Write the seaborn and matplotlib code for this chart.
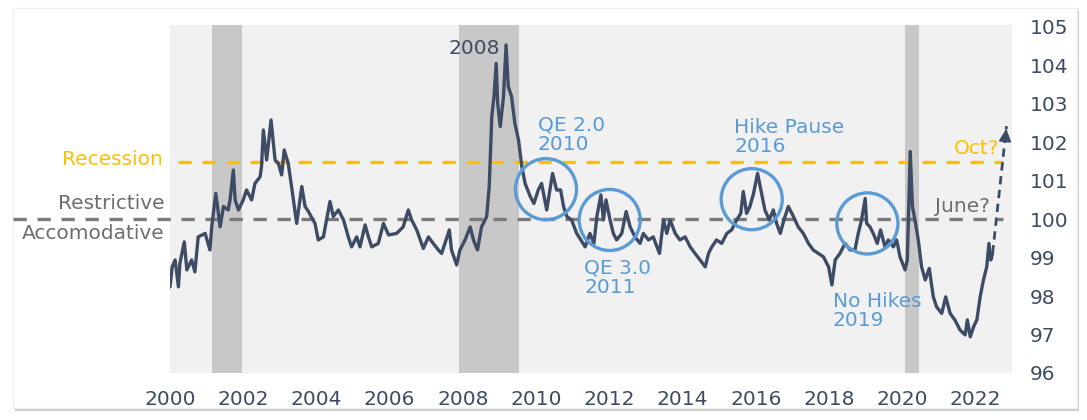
import matplotlib
matplotlib.use("Agg")
import matplotlib.pyplot as plt
from matplotlib.patches import Rectangle
import seaborn as sns
import numpy as np
import pandas as pd

# index values (fractional year, level)
years = [
    2000.00, 2000.06, 2000.14, 2000.23, 2000.27, 2000.39, 2000.46, 2000.59, 2000.68, 2000.77,
    2000.96, 2001.09, 2001.14, 2001.25, 2001.37, 2001.46, 2001.59, 2001.64, 2001.73, 2001.78,
    2001.87, 2002.00, 2002.09, 2002.23, 2002.32, 2002.46, 2002.50, 2002.55, 2002.64, 2002.76,
    2002.87, 2002.96, 2003.05, 2003.12, 2003.23, 2003.32, 2003.42, 2003.46, 2003.60, 2003.69,
    2003.78, 2003.96, 2004.05, 2004.19, 2004.37, 2004.46, 2004.60, 2004.74, 2004.87, 2004.96,
    2005.10, 2005.19, 2005.33, 2005.42, 2005.51, 2005.69, 2005.83, 2005.97,
    2006.19, 2006.37, 2006.51, 2006.60, 2006.74, 2006.92, 2007.06, 2007.19, 2007.33, 2007.42,
    2007.51, 2007.63, 2007.69, 2007.83, 2007.92, 2008.06, 2008.20, 2008.29, 2008.40, 2008.51,
    2008.65, 2008.72, 2008.79, 2008.85, 2008.91, 2008.95, 2009.02, 2009.11, 2009.18, 2009.24,
    2009.33, 2009.42, 2009.52, 2009.61, 2009.70, 2009.84, 2009.94, 2010.06, 2010.15, 2010.29,
    2010.45, 2010.56, 2010.67, 2010.75, 2010.84, 2010.97, 2011.11, 2011.34, 2011.47, 2011.58,
    2011.66, 2011.77, 2011.84, 2011.91,
    2012.02, 2012.11, 2012.20, 2012.34, 2012.46, 2012.57, 2012.70, 2012.84, 2012.93, 2013.07,
    2013.20, 2013.37, 2013.48, 2013.57, 2013.66, 2013.80, 2013.93, 2014.07, 2014.21, 2014.34,
    2014.48, 2014.62, 2014.71, 2014.80, 2014.93, 2015.07, 2015.21, 2015.34, 2015.48, 2015.59,
    2015.66, 2015.75, 2015.84, 2015.94, 2016.05, 2016.16, 2016.25, 2016.37, 2016.48, 2016.57,
    2016.67, 2016.77, 2016.89, 2017.03, 2017.16, 2017.30, 2017.44, 2017.57, 2017.71, 2017.85,
    2017.99,
    2018.08, 2018.17, 2018.30, 2018.44, 2018.58, 2018.71, 2018.80, 2018.89, 2018.99, 2019.03,
    2019.12, 2019.21, 2019.32, 2019.41, 2019.53, 2019.62, 2019.76, 2019.85, 2019.94, 2020.08,
    2020.14, 2020.22, 2020.28, 2020.35, 2020.44, 2020.53, 2020.63, 2020.74, 2020.85, 2020.94,
    2021.08, 2021.19, 2021.31, 2021.44, 2021.58, 2021.72, 2021.78, 2021.86, 2021.95, 2022.04,
    2022.13, 2022.22, 2022.31, 2022.37, 2022.42, 2022.47,
]
values = [
    98.24, 98.76, 98.94, 98.24, 98.85, 99.41, 98.68, 98.94, 98.63, 99.54,
    99.63, 99.20, 99.80, 100.67, 99.80, 100.33, 100.24, 100.50, 101.28, 100.50,
    100.24, 100.50, 100.76, 100.50, 100.93, 101.10, 101.37, 102.32, 101.54, 102.58,
    101.54, 101.45, 101.15, 101.80, 101.45, 100.85, 100.15, 99.89, 100.85, 100.33,
    100.20, 99.89, 99.46, 99.54, 100.46, 100.07, 100.24, 99.98, 99.54, 99.28,
    99.54, 99.28, 99.85, 99.54, 99.28, 99.37, 99.89, 99.59,
    99.63, 99.80, 100.24, 99.98, 99.72, 99.24, 99.54, 99.37, 99.20, 99.11,
    99.37, 99.72, 99.20, 98.81, 99.20, 99.46, 99.80, 99.46, 99.20, 99.80,
    100.07, 100.85, 102.67, 103.19, 104.05, 103.02, 102.41, 103.19, 104.53, 103.45,
    103.19, 102.49, 102.06, 101.37, 100.93, 100.59, 100.41, 100.76, 100.93, 100.24,
    101.19, 100.76, 100.76, 100.33, 100.07, 99.98, 99.63, 99.28, 99.63, 99.37,
    100.07, 100.63, 99.98, 100.50,
    99.98, 99.63, 99.46, 99.63, 100.20, 99.80, 99.54, 99.37, 99.63, 99.46,
    99.54, 99.11, 99.98, 99.63, 99.98, 99.63, 99.46, 99.54, 99.28, 99.11,
    98.94, 98.76, 99.11, 99.28, 99.46, 99.37, 99.63, 99.72, 99.98, 100.15,
    100.72, 100.15, 100.33, 100.67, 101.19, 100.67, 100.24, 99.98, 100.24, 99.89,
    99.63, 99.98, 100.33, 100.07, 99.80, 99.63, 99.37, 99.20, 99.11, 99.02,
    98.76,
    98.29, 98.94, 99.11, 99.37, 99.20, 99.20, 99.63, 99.98, 100.54, 99.89,
    99.80, 99.63, 99.37, 99.72, 99.28, 99.46, 99.28, 99.46, 99.02, 98.68,
    98.94, 101.76, 100.33, 99.98, 99.46, 98.76, 98.42, 98.72, 97.98, 97.72,
    97.55, 97.98, 97.55, 97.38, 97.12, 96.99, 97.38, 96.94, 97.20, 97.38,
    97.98, 98.42, 98.76, 99.37, 98.94, 99.11,
]

# projected path (dashed arrow): last point -> "Oct?"
proj_years = [2022.47, 2022.85]
proj_values = [99.11, 102.42]

recessions = [(2001.15, 2001.97), (2007.90, 2009.54), (2020.09, 2020.47)]
recession_level = 101.5
neutral_level = 100.0

circle_labels = ["QE 2.0\n2010", "QE 3.0\n2011", "Hike Pause\n2016", "No Hikes\n2019"]
circle_years = [2010.27, 2012.01, 2015.89, 2019.05]
circle_values = [100.78, 99.98, 100.52, 99.89]
label_years = [2010.05, 2011.31, 2015.41, 2018.11]
label_values = [102.20, 98.48, 102.14, 97.62]

x_ticks = list(range(2000, 2023, 2))
y_ticks = list(range(96, 106))

navy = "#3e4b64"
blue = "#5b9bd5"
yellow = "#ffc000"
gray = "#7a7a7a"
text_gray = "#6e6e6e"
fs = 14.5

df = pd.DataFrame({"year": years, "value": values})

sns.set_theme(style="white")
plt.rcParams["font.family"] = ["DejaVu Sans"]

fig = plt.figure(figsize=(10.87, 4.20), dpi=100)

# card with a soft shadow
fig.patches.append(Rectangle((15 / 1087, 9 / 420), 1064 / 1087, 401 / 420,
                             transform=fig.transFigure, facecolor="#cfcfcf",
                             edgecolor="none", zorder=-2))
fig.patches.append(Rectangle((13 / 1087, 12 / 420), 1064 / 1087, 400 / 420,
                             transform=fig.transFigure, facecolor="white",
                             edgecolor="#ececec", linewidth=0.8, zorder=-1))

ax = fig.add_axes([170 / 1087, 1 - 373 / 420, 842 / 1087, 348 / 420])
ax.set_zorder(1)
ax.set_facecolor("#f1f1f1")
for s in ax.spines.values():
    s.set_visible(False)

for start, end in recessions:
    ax.axvspan(start, end, color="#c8c8c8", zorder=1, linewidth=0)

ytrans = ax.get_yaxis_transform()
ax.plot([0.0095, 0.989], [recession_level] * 2, transform=ytrans, color=yellow,
        lw=2.4, dashes=(4, 3.2), zorder=2)
ax.plot([-0.1865, 0.989], [neutral_level] * 2, transform=ytrans, color=gray,
        lw=2.4, dashes=(4, 3.2), zorder=2, clip_on=False)

sns.lineplot(data=df, x="year", y="value", ax=ax, color=navy, lw=2.4, zorder=3,
             estimator=None, sort=False)

ax.plot(proj_years, proj_values, color=navy, lw=2.0, dashes=(3, 2), zorder=3)
ax.annotate("", xy=(proj_years[1], proj_values[1]),
            xytext=(proj_years[1] - 0.02, proj_values[1] - 0.2),
            arrowprops=dict(arrowstyle="-|>,head_length=0.6,head_width=0.3",
                            color=navy, lw=1.5), zorder=4)

ax.scatter(circle_years, circle_values, s=44 ** 2, facecolors="none",
           edgecolors=blue, linewidths=2.4, zorder=4)
for lbl, lx, ly in zip(circle_labels, label_years, label_values):
    ax.text(lx, ly, lbl, color=blue, fontsize=fs, ha="left", va="center",
            linespacing=1.0, zorder=5)

ax.text(2009.02, 104.45, "2008", color=navy, fontsize=fs, ha="right", va="center")
ax.text(2022.65, 101.85, "Oct?", color=yellow, fontsize=fs, ha="right", va="center")
ax.text(2022.40, 100.32, "June?", color=text_gray, fontsize=fs, ha="right", va="center")

ax.text(-0.008, recession_level + 0.05, "Recession", transform=ytrans, color=yellow,
        fontsize=fs, ha="right", va="center")
ax.text(-0.006, 100.40, "Restrictive", transform=ytrans, color=text_gray,
        fontsize=fs, ha="right", va="center")
ax.text(-0.006, 99.64, "Accomodative", transform=ytrans, color=text_gray,
        fontsize=fs, ha="right", va="center")

ax.set_xlim(2000, 2023)
ax.set_ylim(96, 105.05)
ax.set_xticks(x_ticks)
ax.set_xticklabels([str(t) for t in x_ticks])
ax.set_yticks(y_ticks)
ax.yaxis.tick_right()
ax.tick_params(axis="both", length=0, labelsize=fs, labelcolor=navy)
ax.tick_params(axis="y", pad=13)
ax.tick_params(axis="x", pad=12)
ax.set_xlabel("")
ax.set_ylabel("")
ax.grid(False)

fig.savefig("out.png", dpi=100)
